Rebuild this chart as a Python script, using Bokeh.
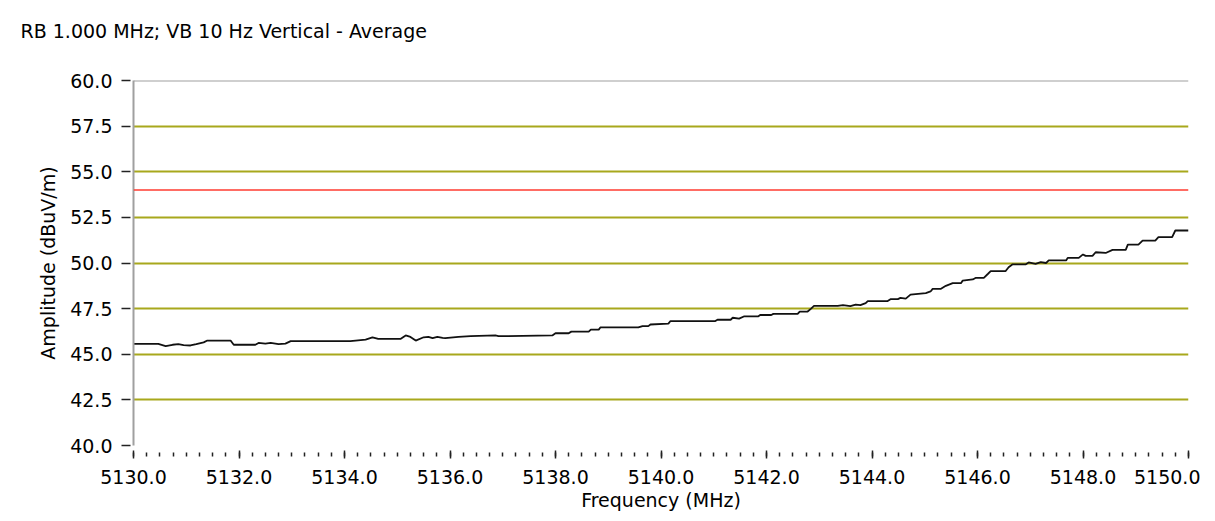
from bokeh.plotting import figure
from bokeh.models import Range1d, FixedTicker, NumeralTickFormatter, Span
from bokeh.embed import file_html
from bokeh.resources import INLINE
import numpy as np

# ---- data ----
title_text = "RB 1.000 MHz; VB 10 Hz  Vertical - Average"
x_label = "Frequency (MHz)"
y_label = "Amplitude (dBuV/m)"

freq = [5130.00, 5130.32, 5130.47, 5130.61, 5130.74, 5130.85, 5130.95, 5131.08, 5131.19, 5131.33,
        5131.40, 5131.84, 5131.90, 5132.31, 5132.37, 5132.50, 5132.60, 5132.75, 5132.88, 5132.98,
        5134.11, 5134.21, 5134.40, 5134.53, 5134.64, 5135.06, 5135.16, 5135.25, 5135.35, 5135.50,
        5135.59, 5135.67, 5135.76, 5135.86, 5135.91, 5136.16, 5136.39, 5136.86, 5136.92, 5137.94,
        5138.00, 5138.25, 5138.30, 5138.63, 5138.67, 5138.82, 5138.85, 5139.57, 5139.65, 5139.76,
        5139.80, 5140.14, 5140.18, 5141.03, 5141.07, 5141.32, 5141.36, 5141.48, 5141.57, 5141.84,
        5141.88, 5142.09, 5142.13, 5142.59, 5142.63, 5142.78, 5142.84, 5142.90, 5143.35, 5143.45,
        5143.59, 5143.69, 5143.78, 5143.88, 5143.92, 5144.29, 5144.35, 5144.49, 5144.54, 5144.64,
        5144.73, 5145.02, 5145.11, 5145.15, 5145.30, 5145.40, 5145.53, 5145.69, 5145.72, 5145.91,
        5145.97, 5146.12, 5146.20, 5146.25, 5146.53, 5146.59, 5146.66, 5146.91, 5146.97, 5147.10,
        5147.20, 5147.30, 5147.35, 5147.68, 5147.71, 5147.92, 5148.00, 5148.05, 5148.18, 5148.24,
        5148.43, 5148.56, 5148.81, 5148.85, 5149.05, 5149.13, 5149.37, 5149.43, 5149.69, 5149.75,
        5150.00]
amplitude = [45.57, 45.57, 45.57, 45.45, 45.52, 45.55, 45.50, 45.48, 45.55, 45.65,
             45.75, 45.75, 45.52, 45.52, 45.62, 45.58, 45.62, 45.55, 45.58, 45.72,
             45.72, 45.75, 45.80, 45.93, 45.84, 45.84, 46.03, 45.95, 45.75, 45.93,
             45.95, 45.88, 45.95, 45.90, 45.88, 45.95, 45.99, 46.03, 45.99, 46.03,
             46.15, 46.15, 46.24, 46.24, 46.35, 46.35, 46.47, 46.47, 46.54, 46.54,
             46.63, 46.68, 46.82, 46.82, 46.89, 46.89, 47.00, 46.95, 47.07, 47.07,
             47.15, 47.15, 47.21, 47.21, 47.34, 47.34, 47.49, 47.65, 47.65, 47.69,
             47.64, 47.72, 47.69, 47.80, 47.91, 47.91, 48.02, 48.02, 48.09, 48.05,
             48.27, 48.35, 48.44, 48.58, 48.58, 48.75, 48.90, 48.90, 49.04, 49.10,
             49.19, 49.19, 49.41, 49.55, 49.55, 49.77, 49.92, 49.92, 50.03, 49.95,
             50.05, 50.00, 50.14, 50.14, 50.28, 50.28, 50.47, 50.39, 50.39, 50.59,
             50.55, 50.72, 50.72, 51.01, 51.01, 51.23, 51.23, 51.42, 51.42, 51.78,
             51.78]
limit_level = 54.0
x_ticks = [5130.0, 5132.0, 5134.0, 5136.0, 5138.0, 5140.0, 5142.0, 5144.0, 5146.0, 5148.0, 5150.0]
y_ticks = [40.0, 42.5, 45.0, 47.5, 50.0, 52.5, 55.0, 57.5, 60.0]
grid_levels = [42.5, 45.0, 47.5, 50.0, 52.5, 55.0, 57.5]

# ---- styling ----
FONT = "DejaVu Sans"
FS = "19px"
TXT = "#000000"

p = figure(width=1200, height=513, output_backend="svg", toolbar_location=None,
           x_range=Range1d(5130, 5150), y_range=Range1d(40, 60),
           min_border_left=133, min_border_right=12, min_border_top=80, min_border_bottom=68)
p.outline_line_color = None
p.background_fill_color = "white"
p.border_fill_color = "white"

# title: a trailing empty line lifts the text higher above the frame
p.title.text = title_text + "\n"
p.title.align = "left"
p.title.offset = -113
p.title.standoff = 34
p.title.text_font = FONT
p.title.text_font_size = FS
p.title.text_font_style = "normal"
p.title.text_color = TXT

# x axis
xa = p.xaxis[0]
xa.ticker = FixedTicker(ticks=x_ticks, minor_ticks=list(np.arange(5130, 5150.001, 0.25)))
xa.formatter = NumeralTickFormatter(format="0.0")
xa.axis_line_color = None
xa.major_tick_line_color = "#222222"
xa.minor_tick_line_color = "#222222"
xa.major_tick_line_width = 1.5
xa.minor_tick_line_width = 1.5
xa.major_tick_in = -5
xa.major_tick_out = 13
xa.minor_tick_in = -7
xa.minor_tick_out = 11
xa.major_label_standoff = 11
xa.major_label_text_font = FONT
xa.major_label_text_font_size = FS
xa.major_label_text_color = TXT
xa.axis_label = x_label
xa.axis_label_text_font = FONT
xa.axis_label_text_font_size = FS
xa.axis_label_text_font_style = "normal"
xa.axis_label_text_color = TXT
xa.axis_label_standoff = 2

# y axis
ya = p.yaxis[0]
ya.ticker = FixedTicker(ticks=y_ticks)
ya.formatter = NumeralTickFormatter(format="0.0")
ya.axis_line_color = "#a0a0a0"
ya.axis_line_width = 2
ya.major_tick_line_color = "#222222"
ya.major_tick_line_width = 1.5
ya.major_tick_in = -3
ya.major_tick_out = 12
ya.minor_tick_line_color = None
ya.major_label_standoff = 9
ya.major_label_text_font = FONT
ya.major_label_text_font_size = FS
ya.major_label_text_color = TXT
ya.axis_label = y_label
ya.axis_label_text_font = FONT
ya.axis_label_text_font_size = FS
ya.axis_label_text_font_style = "normal"
ya.axis_label_text_color = TXT
ya.axis_label_standoff = 8

# grid
p.xgrid.grid_line_color = None
p.ygrid.ticker = FixedTicker(ticks=grid_levels)
p.ygrid.grid_line_color = "#a8a81c"
p.ygrid.grid_line_width = 2

# top frame line and limit line
p.add_layout(Span(location=y_ticks[-1], dimension="width", line_color="#a0a0a0", line_width=2))
p.add_layout(Span(location=limit_level, dimension="width", line_color="#ff3b30", line_width=1.6))

# trace
p.line(freq, amplitude, line_color="#111111", line_width=1.8)

open("out.html", "w").write(file_html(p, INLINE))
